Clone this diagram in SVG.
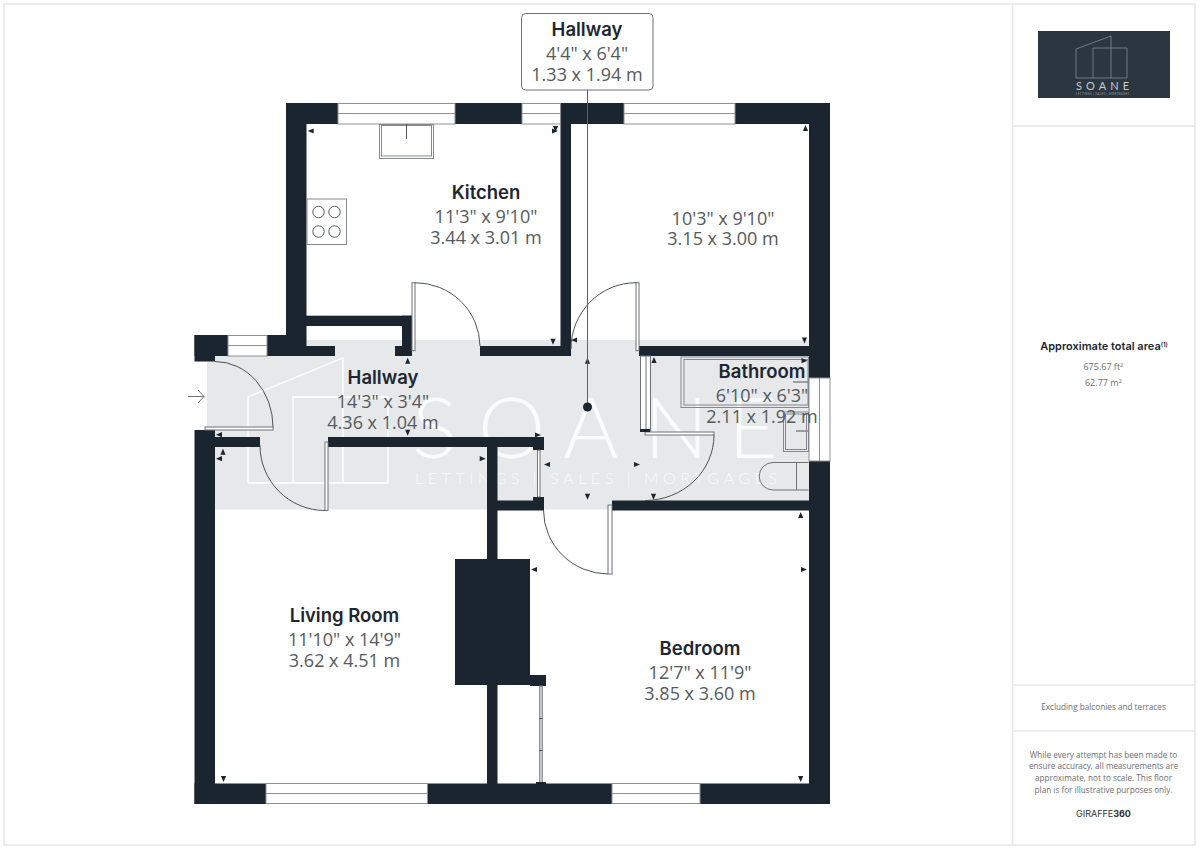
<svg xmlns="http://www.w3.org/2000/svg" width="1200" height="848" viewBox="0 0 1200 848">
<style>
text{text-anchor:middle}
.w{fill:#1b2530}
.win{fill:#fff;stroke:#8d9094;stroke-width:1}
.thin{fill:#fff;stroke:#6d7176;stroke-width:1}
.arc{fill:none;stroke:#4d5258;stroke-width:1}
.fx{fill:none;stroke:#85898d;stroke-width:1}
.name{font-family:"Inter","Liberation Sans",sans-serif;font-weight:600;font-size:18.500px;fill:#1d2631}
.dim{font-family:"Open Sans","Liberation Sans",sans-serif;font-size:18px;fill:#555a60}
.side{font-family:"Open Sans","Liberation Sans",sans-serif;font-size:8.200px;fill:#6a6e73}
.div{stroke:#e6e6e6;stroke-width:1.5;fill:none}
.wm{fill:none;stroke:#fff;stroke-width:1.3}
.wmt{text-anchor:start;font-family:Lato,"Liberation Sans",sans-serif;font-weight:300;fill:#fff;fill-opacity:.8}
</style>
<defs>
<path id="t" d="M-2.6,-3 L2.6,-3 L0,3 Z" fill="#1b2530"/>
</defs>
<rect width="1200" height="848" fill="#fff"/>
<g id="frame">
<rect class="div" x="4" y="4" width="1191" height="841"/>
<path class="div" d="M1012.500,4V845M1012,126H1195M1012,685H1195M1012,731H1195"/>
</g>
<g id="watermark">
<rect x="207" y="340" width="602" height="169.500" fill="#e6e8ea"/>
<path class="wm" d="M248,483V397L343,358V483M248,483H388V397H293V483"/>
<text class="wmt" x="412 478 563 644 728" y="458" font-size="85">SOANE</text>
<text class="wmt" x="415" y="484" font-size="16" textLength="362" lengthAdjust="spacing">LETTINGS | SALES | MORTGAGES</text>
</g>
<g id="walls">
<rect class="w" x="286" y="103" width="544" height="21"/>
<rect class="w" x="286" y="103" width="20.500" height="253"/>
<rect class="w" x="560.500" y="103" width="10.500" height="253"/>
<rect class="w" x="809" y="103" width="21" height="701"/>
<rect class="w" x="194.500" y="335" width="91.500" height="21"/>
<rect class="w" x="194.500" y="335" width="20.500" height="26.500"/>
<rect class="w" x="286" y="346" width="49" height="10"/>
<rect class="w" x="306" y="315.700" width="106" height="10.300"/>
<rect class="w" x="402" y="315.700" width="10" height="40.300"/>
<rect class="w" x="395" y="346" width="17" height="10"/>
<rect class="w" x="480" y="346" width="91" height="10"/>
<rect class="w" x="639" y="346" width="171" height="10"/>
<rect class="w" x="194.500" y="430" width="20.500" height="374"/>
<rect class="w" x="194.500" y="783.500" width="635.500" height="20.500"/>
<rect class="w" x="205" y="437" width="55" height="10"/>
<rect class="w" x="328" y="437" width="212" height="10"/>
<rect class="w" x="533" y="437" width="11" height="13"/>
<rect class="w" x="487" y="437" width="10.500" height="122"/>
<rect class="w" x="487" y="500.500" width="57" height="10"/>
<rect class="w" x="533" y="497" width="11" height="13"/>
<rect class="w" x="612" y="500.500" width="198" height="10"/>
<rect class="w" x="455" y="559" width="75" height="126"/>
<rect class="w" x="487" y="685" width="10.500" height="99"/>
<rect class="w" x="530" y="675" width="16" height="11"/>
</g>
<g id="windows">
<g class="win">
<rect x="338" y="103.500" width="117" height="20.500"/><path d="M338,113.500H455"/>
<rect x="522" y="103.500" width="38.500" height="20.500"/><path d="M522,113.500H560.500"/>
<rect x="624" y="103.500" width="111" height="20.500"/><path d="M624,113.500H735"/>
<rect x="228" y="335.500" width="39" height="20.500"/><path d="M228,345.500H267"/>
<rect x="266" y="783.500" width="161.500" height="20"/><path d="M266,793.500H427.500"/>
<rect x="612" y="783.500" width="88" height="20"/><path d="M612,793.500H700"/>
<rect x="809" y="378" width="21" height="83"/><path d="M819.500,378V461"/>
</g>
</g>
<g id="doors">
<rect class="thin" x="412" y="282.700" width="3" height="68"/>
<path class="arc" d="M415,282.700A65,64 0 0 1 480,346"/>
<rect class="thin" x="636" y="282.700" width="3" height="68"/>
<path class="arc" d="M636,282.700A65,66 0 0 0 571,349"/>
<rect class="thin" x="645" y="432" width="69" height="3"/>
<path class="arc" d="M714,435A69,65.500 0 0 1 645,500.500"/>
<rect class="thin" x="608" y="505" width="4" height="69"/>
<path class="arc" d="M608,574A65,64 0 0 1 543.500,510"/>
<rect class="thin" x="205" y="427" width="68" height="3"/>
<path class="arc" d="M215,361.500A58,65.500 0 0 1 273,427"/>
<rect class="thin" x="325" y="442" width="3" height="68.500"/>
<path class="arc" d="M260,445A65,65 0 0 0 325,510.500"/>
</g>
<g id="partitions">
<rect class="thin" x="640.500" y="356" width="10" height="75"/>
<path d="M646,356V431" stroke="#6d7176" fill="none"/>
<rect class="w" x="640" y="429" width="10" height="3"/>
<rect x="537.500" y="450" width="2.500" height="47" fill="#fff" stroke="#50555b" stroke-width=".8"/>
<rect x="539.500" y="686" width="3" height="97.500" fill="#c4c6c8" stroke="#7b7f83" stroke-width=".8"/>
<rect class="w" x="536" y="782" width="10" height="2"/>
<path d="M539,718.500h3M539,750.500h3" stroke="#50555b" stroke-width="1"/>
</g>
<g id="fixtures">
<rect class="fx" x="379.500" y="124.500" width="54" height="34"/>
<rect class="fx" x="381.500" y="125.500" width="50" height="30.500"/>
<path d="M406.500,124V139" stroke="#50555b" fill="none"/>
<rect x="307" y="199" width="39.500" height="45.500" fill="#fff" stroke="#85898d"/>
<g fill="none" stroke="#555a60"><circle cx="318.500" cy="212" r="5.700"/><circle cx="334.500" cy="212" r="5.700"/><circle cx="318.500" cy="231.500" r="5.700"/><circle cx="334.500" cy="231.500" r="5.700"/></g>
<rect class="fx" x="681" y="357" width="127.500" height="50.500"/>
<rect class="fx" x="684" y="359.500" width="124" height="45.500"/>
<path d="M793,382H808M796,431H808" stroke="#50555b" fill="none"/>
<rect class="fx" x="783.500" y="412" width="25" height="39.500"/>
<rect class="fx" x="785.500" y="414" width="21" height="35.500"/>
<path d="M808.500,462.500H773A13.500,13.500 0 0 0 773,490H808.500" fill="none" stroke="#6d7176"/>
<path d="M796.500,462.500V490" stroke="#6d7176" fill="none"/>
</g>
<g id="dimension-arrows">
<use href="#t" transform="translate(407.700,360.700) rotate(180)"/>
<use href="#t" transform="translate(407.700,432.700)"/>
<use href="#t" transform="translate(219,434.700) rotate(90)"/>
<use href="#t" transform="translate(223,451.700) rotate(180)"/>
<use href="#t" transform="translate(219,458.700) rotate(90)"/>
<use href="#t" transform="translate(482.700,458.700) rotate(-90)"/>
<use href="#t" transform="translate(538,435) rotate(-90)"/>
<use href="#t" transform="translate(553,341.700)"/>
<use href="#t" transform="translate(574,340) rotate(90)"/>
<use href="#t" transform="translate(587.500,360.700) rotate(180)"/>
<use href="#t" transform="translate(587.500,496.700)"/>
<use href="#t" transform="translate(547,464.500) rotate(90)"/>
<use href="#t" transform="translate(637,464.500) rotate(-90)"/>
<use href="#t" transform="translate(653.500,496.700)"/>
<use href="#t" transform="translate(654,360) rotate(180)"/>
<use href="#t" transform="translate(804.500,340.500)"/>
<use href="#t" transform="translate(804.500,360.700) rotate(-90)"/>
<use href="#t" transform="translate(800.700,515) rotate(180)"/>
<use href="#t" transform="translate(804,569.500) rotate(-90)"/>
<use href="#t" transform="translate(534,569.500) rotate(90)"/>
<use href="#t" transform="translate(310.700,131) rotate(90)"/>
<use href="#t" transform="translate(555,131) rotate(-90)"/>
<use href="#t" transform="translate(555.500,129)"/>
<use href="#t" transform="translate(805.500,128) rotate(180)"/>
<use href="#t" transform="translate(223.500,779)"/>
<use href="#t" transform="translate(800.700,779)"/>
</g>
<g id="connectors">
<path d="M587.500,90V407" stroke="#5c6166" stroke-width="1" fill="none"/>
<circle cx="587.500" cy="407" r="4.500" fill="#1b2530"/>
<path d="M188,396.500H204M198,390l6,6.500l-6,6.500" fill="none" stroke="#6d7176" stroke-width="1"/>
</g>
<g id="node-hallway-top">
<rect x="521.500" y="13.500" width="131.500" height="76.500" rx="4" fill="#fff" stroke="#6d7176" stroke-width="1"/>
<text class="name" x="587" y="35.500">Hallway</text>
<text class="dim" x="587" y="59.500">4'4" x 6'4"</text>
<text class="dim" x="587" y="80.500">1.33 x 1.94 m</text>
</g>
<g id="node-kitchen">
<text class="name" x="486" y="199">Kitchen</text>
<text class="dim" x="486" y="223">11'3" x 9'10"</text>
<text class="dim" x="486" y="244">3.44 x 3.01 m</text>
</g>
<g id="node-room">
<text class="dim" x="723" y="224.500">10'3" x 9'10"</text>
<text class="dim" x="723" y="245">3.15 x 3.00 m</text>
</g>
<g id="node-hallway">
<text class="name" x="383" y="384">Hallway</text>
<text class="dim" x="383" y="408">14'3" x 3'4"</text>
<text class="dim" x="383" y="429">4.36 x 1.04 m</text>
</g>
<g id="node-bathroom">
<text class="name" x="762" y="378">Bathroom</text>
<text class="dim" x="762" y="402">6'10" x 6'3"</text>
<text class="dim" x="762" y="423">2.11 x 1.92 m</text>
</g>
<g id="node-living-room">
<text class="name" x="344.500" y="622">Living Room</text>
<text class="dim" x="344.500" y="646">11'10" x 14'9"</text>
<text class="dim" x="344.500" y="666.500">3.62 x 4.51 m</text>
</g>
<g id="node-bedroom">
<text class="name" x="700" y="655">Bedroom</text>
<text class="dim" x="700" y="679">12'7" x 11'9"</text>
<text class="dim" x="700" y="700">3.85 x 3.60 m</text>
</g>
<g id="logo">
<rect x="1038" y="31" width="132" height="67" fill="#2b3640"/>
<path d="M1076,78V49L1111,36V78M1076,78H1127V48H1093V78" fill="none" stroke="#8f979e" stroke-width=".7"/>
<text x="1102.500" y="90" font-family="Lato,'Liberation Sans',sans-serif" font-size="11" fill="#c4cace" textLength="53" lengthAdjust="spacing">SOANE</text>
<text x="1102.500" y="95" font-family="Lato,'Liberation Sans',sans-serif" font-size="2.800" fill="#9aa2a8" textLength="53" lengthAdjust="spacing">LETTINGS | SALES | MORTGAGES</text>
</g>
<g id="sidebar">
<text x="1104" y="350" font-family="Inter,'Liberation Sans',sans-serif" font-weight="600" font-size="11" fill="#1d2631">Approximate total area<tspan font-size="6" dy="-3">(1)</tspan></text>
<text class="side" font-size="9" style="font-size:9px" x="1103.500" y="369.500">675.67 ft<tspan font-size="6" style="font-size:6px" dy="-3">2</tspan></text>
<text class="side" style="font-size:9px" x="1103.500" y="386">62.77 m<tspan style="font-size:6px" dy="-3">2</tspan></text>
<text class="side" x="1103.500" y="710">Excluding balconies and terraces</text>
<text class="side" x="1103.500" y="757.500">While every attempt has been made to</text>
<text class="side" x="1103.500" y="769">ensure accuracy, all measurements are</text>
<text class="side" x="1103.500" y="781">approximate, not to scale. This floor</text>
<text class="side" x="1103.500" y="793">plan is for illustrative purposes only.</text>
<text x="1103.500" y="817" font-family="Inter,'Liberation Sans',sans-serif" font-size="9" fill="#2b3138">GIRAFFE<tspan font-weight="700">360</tspan></text>
</g>
</svg>
